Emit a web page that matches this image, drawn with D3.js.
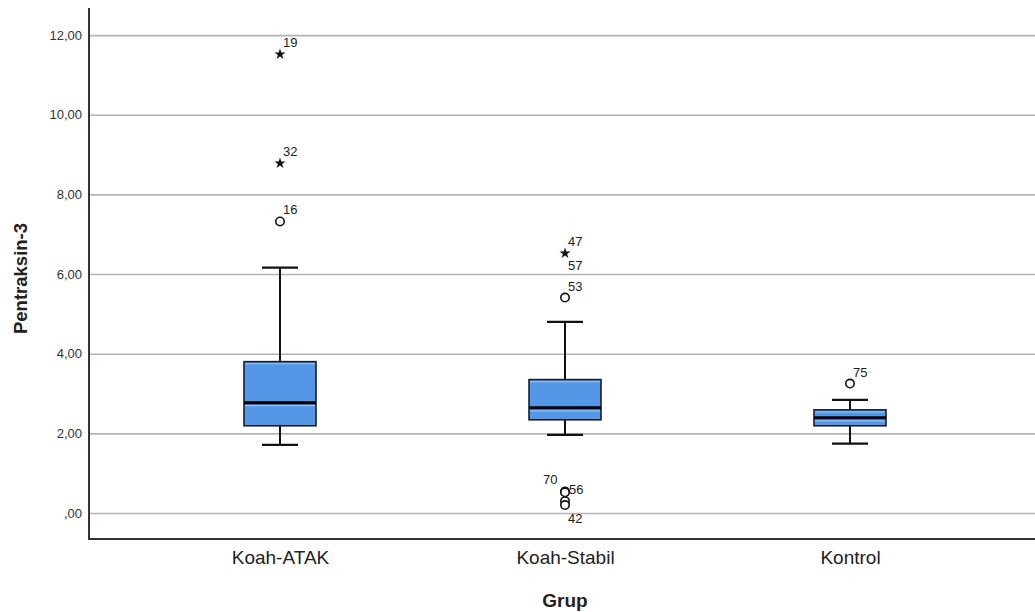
<!DOCTYPE html>
<html>
<head>
<meta charset="utf-8">
<script src="https://cdn.jsdelivr.net/npm/d3@7"></script>
<style>
html,body{margin:0;padding:0;background:#fff;}
svg{display:block;}
text{font-family:Arial,"Liberation Sans",sans-serif;}
</style>
</head>
<body>
<svg id="chart" width="1035" height="612"></svg>
<script>
// ---- data ----
const categories = ["Koah-ATAK", "Koah-Stabil", "Kontrol"];
const whiskerLow = [1.71, 1.96, 1.74];
const q1 = [2.19, 2.34, 2.19];
const median = [2.77, 2.64, 2.39];
const q3 = [3.80, 3.35, 2.59];
const whiskerHigh = [6.16, 4.80, 2.84];
const outlierGroup = ["Koah-ATAK", "Koah-ATAK", "Koah-ATAK", "Koah-Stabil", "Koah-Stabil", "Koah-Stabil", "Koah-Stabil", "Koah-Stabil", "Koah-Stabil", "Kontrol"];
const outlierValue = [11.52, 8.78, 7.32, 6.52, 5.41, 0.54, 0.52, 0.30, 0.20, 3.25];
const outlierType  = ["star", "star", "circle", "star", "circle", "circle", "circle", "circle", "circle", "circle"];
const outlierLabel = ["19", "32", "16", "47", "53", "70", "56", "", "42", "75"];
const extraLabels = [{group: "Koah-Stabil", value: 6.52, label: "57"}];
const yTicks = [0, 2, 4, 6, 8, 10, 12];
const yTickLabels = [",00", "2,00", "4,00", "6,00", "8,00", "10,00", "12,00"];
const yTitle = "Pentraksin-3";
const xTitle = "Grup";

// ---- layout ----
const svg = d3.select("#chart");
const mLeft = 89, mRight = 1035, mTop = 8, mBottom = 539;
const y = d3.scaleLinear().domain([-0.653, 12.68]).range([mBottom, mTop]);
const x = d3.scalePoint().domain(categories).range([280, 850]);
const boxW = 72, capW = 36;

// gridlines
const grid = svg.append("g").attr("transform", `translate(${mLeft},0)`)
  .call(d3.axisLeft(y).tickValues(yTicks).tickSize(-(mRight - mLeft)).tickFormat(""));
grid.select(".domain").remove();
grid.selectAll(".tick line").attr("stroke", "#b4b4b4").attr("stroke-width", 1.6);

// y tick labels
const yAxis = svg.append("g").attr("transform", `translate(${mLeft - 6},0)`)
  .call(d3.axisLeft(y).tickValues(yTicks).tickSize(0).tickPadding(1)
    .tickFormat(d => yTickLabels[yTicks.indexOf(d)]));
yAxis.select(".domain").remove();
yAxis.selectAll("text").attr("font-size", 13).attr("fill", "#333").attr("font-family", "Arial, 'Liberation Sans', sans-serif");

// x axis labels
const xAxis = svg.append("g").attr("transform", `translate(0,${mBottom})`)
  .call(d3.axisBottom(x).tickSize(0).tickPadding(12));
xAxis.select(".domain").remove();
xAxis.selectAll("text").attr("font-size", 19).attr("fill", "#222")
  .attr("font-family", "Arial, 'Liberation Sans', sans-serif");

// axis lines
svg.append("line").attr("x1", mLeft).attr("x2", mLeft).attr("y1", mTop).attr("y2", mBottom)
  .attr("stroke", "#333").attr("stroke-width", 2);
svg.append("line").attr("x1", mLeft - 1).attr("x2", mRight).attr("y1", mBottom).attr("y2", mBottom)
  .attr("stroke", "#333").attr("stroke-width", 2);

// boxes
const boxes = svg.append("g");
categories.forEach((c, i) => {
  const cx = x(c);
  const g = boxes.append("g");
  g.append("line").attr("x1", cx).attr("x2", cx).attr("y1", y(whiskerHigh[i])).attr("y2", y(q3[i]))
    .attr("stroke", "#111").attr("stroke-width", 2);
  g.append("line").attr("x1", cx).attr("x2", cx).attr("y1", y(q1[i])).attr("y2", y(whiskerLow[i]))
    .attr("stroke", "#111").attr("stroke-width", 2);
  g.append("line").attr("x1", cx - capW / 2).attr("x2", cx + capW / 2).attr("y1", y(whiskerHigh[i])).attr("y2", y(whiskerHigh[i]))
    .attr("stroke", "#111").attr("stroke-width", 2.2);
  g.append("line").attr("x1", cx - capW / 2).attr("x2", cx + capW / 2).attr("y1", y(whiskerLow[i])).attr("y2", y(whiskerLow[i]))
    .attr("stroke", "#111").attr("stroke-width", 2.2);
  g.append("rect").attr("x", cx - boxW / 2).attr("y", y(q3[i])).attr("width", boxW)
    .attr("height", y(q1[i]) - y(q3[i])).attr("fill", "#5597e7");
  g.append("line").attr("x1", cx - boxW / 2 + 1).attr("x2", cx + boxW / 2 - 1)
    .attr("y1", y(q3[i]) + 2).attr("y2", y(q3[i]) + 2).attr("stroke", "#8dbdf3").attr("stroke-width", 1.2);
  g.append("line").attr("x1", cx - boxW / 2 + 1).attr("x2", cx + boxW / 2 - 1)
    .attr("y1", y(median[i]) + 3).attr("y2", y(median[i]) + 3).attr("stroke", "#8dbdf3").attr("stroke-width", 1.2);
  g.append("rect").attr("x", cx - boxW / 2).attr("y", y(q3[i])).attr("width", boxW)
    .attr("height", y(q1[i]) - y(q3[i])).attr("fill", "none").attr("stroke", "#1a1f2e").attr("stroke-width", 1.6);
  g.append("line").attr("x1", cx - boxW / 2).attr("x2", cx + boxW / 2).attr("y1", y(median[i])).attr("y2", y(median[i]))
    .attr("stroke", "#000").attr("stroke-width", 3);
});

// outliers
const star = d3.symbol().type(d3.symbolStar).size(38);
const og = svg.append("g");
outlierValue.forEach((v, i) => {
  const cx = x(outlierGroup[i]), cy = y(v);
  if (outlierType[i] === "star") {
    og.append("path").attr("d", star).attr("transform", `translate(${cx},${cy})`).attr("fill", "#111");
  } else {
    og.append("circle").attr("cx", cx).attr("cy", cy).attr("r", 4.2)
      .attr("fill", "#fff").attr("stroke", "#111").attr("stroke-width", 1.6);
  }
});
const labelPos = (lbl) => {
  if (lbl === "70") return {dx: -22, dy: -7};
  if (lbl === "56") return {dx: 4, dy: 2};
  if (lbl === "42") return {dx: 3, dy: 18};
  return {dx: 3, dy: -7};
};
outlierValue.forEach((v, i) => {
  if (!outlierLabel[i]) return;
  const p = labelPos(outlierLabel[i]);
  og.append("text").attr("x", x(outlierGroup[i]) + p.dx).attr("y", y(v) + p.dy)
    .attr("font-size", 13).attr("fill", "#222").text(outlierLabel[i]);
});
extraLabels.forEach(d => {
  og.append("text").attr("x", x(d.group) + 3).attr("y", y(d.value) + 17)
    .attr("font-size", 13).attr("fill", "#222").text(d.label);
});

// titles
svg.append("text").attr("transform", `translate(27,${(mTop + mBottom) / 2 + 5}) rotate(-90)`)
  .attr("text-anchor", "middle").attr("font-size", 18.5).attr("font-weight", "bold").attr("fill", "#222")
  .text(yTitle);
svg.append("text").attr("x", 565).attr("y", 607).attr("text-anchor", "middle")
  .attr("font-size", 19).attr("font-weight", "bold").attr("fill", "#222").text(xTitle);
</script>
</body>
</html>
